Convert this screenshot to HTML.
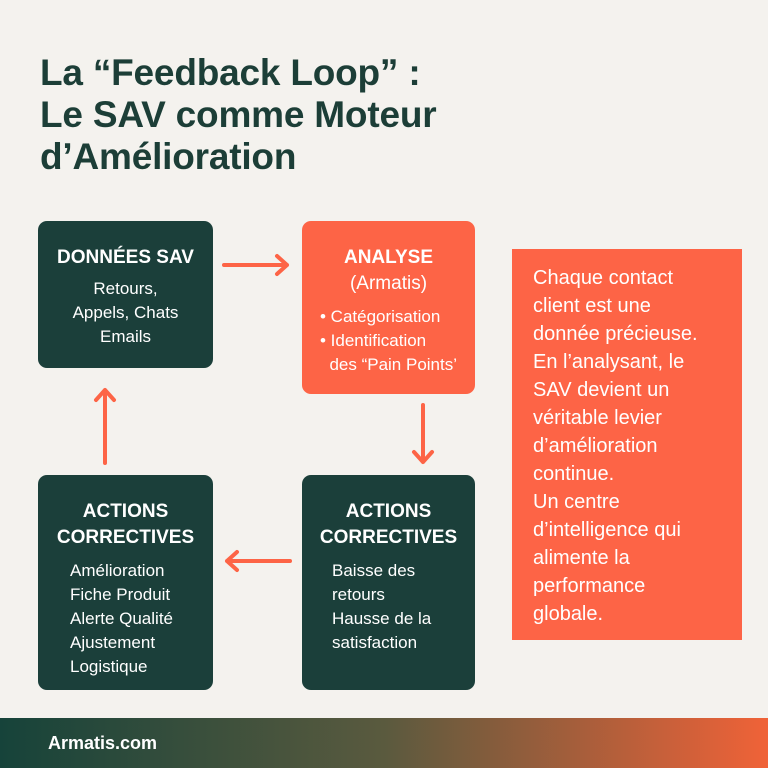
<!DOCTYPE html>
<html><head><meta charset="utf-8"><style>
*{margin:0;padding:0;box-sizing:border-box}
body{width:768px;height:768px;background:#f4f2ee;position:relative;overflow:hidden;font-family:"Liberation Sans",sans-serif}
.t{position:absolute;left:40px;top:52px;font-size:37px;font-weight:bold;color:#1c3e37;line-height:42px;letter-spacing:-0.2px}
.b{position:absolute;border-radius:9px;color:#fff;text-align:center}
.g{background:#1b3f3a}.o{background:#fd6446}
.h{font-weight:bold;font-size:19px;line-height:26px}
.s{font-size:17px;line-height:24px}
.l{text-align:left}
.r{position:absolute;left:512px;top:249px;width:230px;height:391px;background:#fd6446;color:#fff;font-size:20px;line-height:28px;padding:15px 10px 0 21px}
.f{position:absolute;left:0;top:718px;width:768px;height:50px;background:linear-gradient(90deg,#16433a,#5a5a3e 50%,#f06238);color:#fff;font-weight:bold;font-size:18px;padding:15px 0 0 48px}
</style></head><body>
<div class="t">La “Feedback Loop” :<br>Le SAV comme Moteur<br>d’Amélioration</div>
<div class="b g" style="left:38px;top:221px;width:175px;height:147px;padding-top:24px"><div class="h">DONNÉES SAV</div><div class="s" style="margin-top:6px">Retours,<br>Appels, Chats<br>Emails</div></div>
<div class="b o" style="left:302px;top:221px;width:173px;height:173px;padding-top:24px"><div class="h">ANALYSE</div><div class="h" style="font-weight:normal">(Armatis)</div><div class="s l" style="margin:8px 0 0 18px">• Catégorisation<br>• Identification<br>&nbsp;&nbsp;des “Pain Points’</div></div>
<div class="b g" style="left:38px;top:475px;width:175px;height:215px;padding-top:24px"><div class="h">ACTIONS<br>CORRECTIVES</div><div class="s l" style="margin:8px 0 0 32px">Amélioration<br>Fiche Produit<br>Alerte Qualité<br>Ajustement<br>Logistique</div></div>
<div class="b g" style="left:302px;top:475px;width:173px;height:215px;padding-top:24px"><div class="h">ACTIONS<br>CORRECTIVES</div><div class="s l" style="margin:8px 0 0 30px">Baisse des<br>retours<br>Hausse de la<br>satisfaction</div></div>
<div class="r">Chaque contact<br>client est une<br>donnée précieuse.<br>En l’analysant, le<br>SAV devient un<br>véritable levier<br>d’amélioration<br>continue.<br>Un centre<br>d’intelligence qui<br>alimente la<br>performance<br>globale.</div>
<svg style="position:absolute;left:0;top:0" width="768" height="768" fill="none" stroke="#fd6446" stroke-width="4" stroke-linecap="round" stroke-linejoin="round">
<path d="M224 265H287M277 256L287 265L277 274"/>
<path d="M423 405V462M414 452L423 462L432 452"/>
<path d="M290 561H227M237 552L227 561L237 570"/>
<path d="M105 463V390M96 400L105 390L114 400"/>
</svg>
<div class="f">Armatis.com</div>
</body></html>
